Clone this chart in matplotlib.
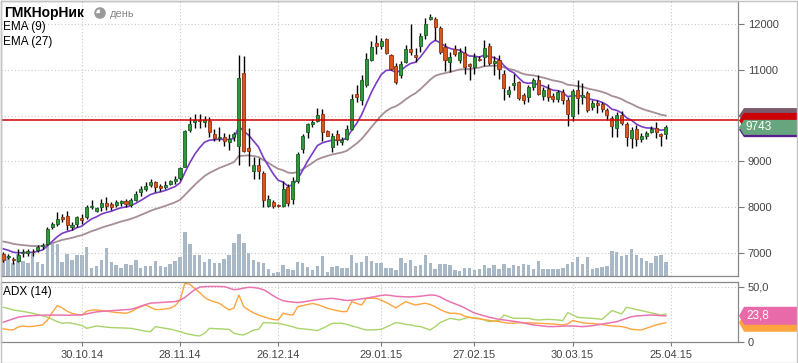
import numpy as np
import matplotlib
matplotlib.use('Agg')
import matplotlib.pyplot as plt
from matplotlib.patches import Polygon, Rectangle, Circle, Wedge
from matplotlib.transforms import blended_transform_factory

plt.rcParams['font.family'] = ['Liberation Sans', 'DejaVu Sans']

# daily candles, GMK Norilsk Nickel, Oct 2014 - Apr 2015
opens = [6980, 6920, 6870, 6830, 6990, 6995, 7030, 7060, 7140, 7190,
         7555, 7630, 7780, 7810, 7555, 7640, 7760, 7775, 8000, 7920,
         8010, 8080, 8060, 8050, 8080, 8140, 8050, 8160, 8320, 8395,
         8490, 8540, 8460, 8450, 8510, 8560, 8630, 8886, 9690, 9860,
         9910, 9865, 9880, 9600, 9500, 9530, 9420, 9530, 9325, 10920,
         9296, 8790, 8910, 8754, 8030, 8110, 8050, 8015, 8430, 8180,
         8580, 9270, 9640, 9820, 9890, 10025, 9660, 9310, 9590, 9430,
         9485, 9710, 10480, 10333, 10662, 11210, 11596, 11524, 11670, 11320,
         11078, 10881, 11170, 11445, 11320, 11524, 11759, 12110, 12109, 11905,
         11502, 11170, 11452, 11210, 11357, 11122, 11064, 11232, 11283, 11518,
         11150, 11210, 10918, 10480, 10660, 10735, 10443, 10405, 10625, 10772,
         10420, 10590, 10420, 10370, 10515, 10348, 10000, 10552, 10400, 10493,
         10187, 10275, 10260, 10114, 9953, 9725, 10004, 9820, 9500, 9713,
         9485, 9544, 9640, 9727, 9600, 9590]
highs = [7010, 6980, 6920, 7080, 7080, 7080, 7080, 7175, 7210, 7555,
         7685, 7900, 7850, 7905, 7665, 7810, 7850, 8050, 8150, 8010,
         8180, 8230, 8110, 8150, 8165, 8180, 8210, 8350, 8470, 8540,
         8610, 8570, 8510, 8560, 8600, 8680, 8885, 9675, 9970, 10030,
         10040, 10000, 9970, 9710, 9760, 9625, 9600, 9640, 11320, 11300,
         9735, 9105, 9080, 8800, 8270, 8150, 8060, 8580, 8500, 8650,
         9200, 9600, 9835, 9930, 10170, 10150, 9690, 9630, 9680, 9530,
         9785, 10480, 10662, 10880, 11370, 11627, 11760, 11690, 11690, 11350,
         11150, 11200, 11540, 12000, 11480, 11800, 12125, 12230, 12150, 11950,
         11580, 11380, 11540, 11470, 11510, 11150, 11370, 11300, 11650, 11590,
         11300, 11320, 10990, 10640, 10918, 10760, 10500, 10660, 10830, 10880,
         10625, 10680, 10490, 10570, 10590, 10410, 10580, 10787, 10713, 10540,
         10340, 10340, 10300, 10170, 10000, 10070, 10100, 9860, 9750, 9800,
         9620, 9660, 9763, 9860, 9620, 9800]
lows = [6790, 6860, 6750, 6790, 6900, 6930, 6930, 7010, 7075, 7175,
        7520, 7590, 7665, 7505, 7505, 7570, 7640, 7730, 7960, 7885,
        7920, 7940, 7940, 8010, 8020, 8010, 8010, 8140, 8250, 8350,
        8430, 8330, 8350, 8400, 8490, 8500, 8590, 8870, 9640, 9735,
        9730, 9760, 9530, 9455, 9455, 9325, 9240, 9455, 8910, 9200,
        8908, 8615, 8620, 7995, 7995, 7990, 7995, 7995, 8030, 8060,
        8530, 9180, 9510, 9740, 9860, 9440, 9550, 9200, 9350, 9350,
        9460, 9675, 10296, 10222, 10632, 11190, 11335, 11460, 11335, 10990,
        10700, 10830, 11150, 11320, 11180, 11393, 11671, 12090, 11650, 11350,
        10980, 10950, 11295, 11150, 10900, 10772, 10900, 11190, 11090, 11116,
        10896, 10809, 10348, 10400, 10552, 10333, 10260, 10296, 10560, 10443,
        10345, 10320, 10300, 10290, 10260, 9770, 9890, 10040, 10245, 10070,
        10130, 10055, 10080, 9894, 9530, 9530, 9790, 9346, 9296, 9325,
        9430, 9480, 9616, 9515, 9325, 9480]
closes = [6840, 6940, 6840, 6960, 7010, 7040, 7010, 7130, 7175, 7530,
          7640, 7750, 7730, 7615, 7615, 7775, 7720, 8010, 8030, 7980,
          8080, 8030, 8010, 8120, 8125, 8070, 8155, 8285, 8390, 8470,
          8540, 8450, 8420, 8490, 8580, 8620, 8850, 9660, 9820, 9895,
          9880, 9895, 9640, 9510, 9540, 9440, 9480, 9590, 10822, 9237,
          9222, 8930, 8800, 8162, 8175, 8030, 8020, 8395, 8100, 8580,
          9150, 9560, 9810, 9860, 10020, 9640, 9565, 9565, 9460, 9470,
          9710, 10370, 10410, 10772, 11232, 11502, 11524, 11627, 11357, 11028,
          10735, 11137, 11452, 11393, 11276, 11743, 11993, 12160, 11940, 11393,
          11210, 11270, 11335, 11380, 11064, 11085, 11283, 11205, 11480, 11160,
          11185, 11028, 10603, 10570, 10710, 10384, 10333, 10625, 10772, 10480,
          10570, 10405, 10362, 10515, 10348, 10040, 10530, 10392, 10455, 10114,
          10275, 10230, 10150, 10004, 9763, 10010, 9835, 9530, 9675, 9485,
          9544, 9616, 9710, 9640, 9565, 9743]
volumes = [22.3, 20, 13.3, 22.3, 15, 13.3, 23.3, 14.3, 11.7, 31.7,
           32.3, 32.3, 14, 22.3, 15.7, 21, 21, 29, 8.3, 10,
           15.7, 27.7, 14, 11, 7.7, 11.7, 11, 15.7, 8.3, 10,
           10, 15, 10, 9, 11.7, 15, 19, 44, 31.7, 21,
           21, 14.3, 16.7, 13.3, 13.3, 17.3, 21, 33.3, 42.3, 33.3,
           23.3, 15.7, 14.3, 13.3, 6.7, 2.7, 4.3, 11, 7.3, 5.7,
           14, 13.3, 9, 6, 9.7, 20, 4, 9, 10, 8.3,
           7.7, 21, 13.3, 14, 20, 15, 13.3, 12.7, 8.3, 7.7,
           6, 17.7, 13.3, 16, 10, 10.7, 20.7, 12.7, 6.7, 11.7,
           11.7, 10.7, 5.7, 5, 7.7, 8.3, 6, 6.7, 10.7, 8.3,
           10.7, 7.3, 12.3, 8.3, 10.7, 10, 11.7, 10.7, 6.7, 15,
           6.7, 6.7, 6.7, 6.7, 7.7, 12.3, 14, 19, 11.7, 19,
           6.7, 7.7, 9, 10, 25, 24.3, 20, 21, 26.7, 21,
           17.7, 15, 12.7, 20, 21, 14]

adx = [18.0, 19.5, 21.0, 22.5, 23.2, 23.6, 24.0, 24.2, 24.4, 24.5,
       24.5, 24.5, 24.4, 24.3, 24.4, 24.5, 24.6, 25.5, 26.5, 27.4,
       27.8, 28.1, 28.4, 28.8, 29.1, 29.4, 29.7, 31.0, 32.5, 34.0,
       35.3, 35.6, 35.9, 36.1, 36.4, 36.7, 38.0, 40.5, 44.0, 47.5,
       49.8, 50.3, 50.5, 50.5, 50.4, 50.3, 49.0, 47.5, 48.0, 49.0,
       49.7, 49.5, 48.8, 47.5, 45.0, 42.0, 39.5, 37.5, 36.7, 36.2,
       35.8, 36.3, 37.0, 37.8, 38.6, 39.0, 39.5, 39.7, 39.0, 38.2,
       37.7, 38.0, 38.6, 39.3, 39.8, 40.6, 41.5, 42.3, 42.7, 42.2,
       41.5, 41.2, 41.0, 41.0, 41.2, 41.6, 42.2, 42.7, 42.5, 41.0,
       38.5, 36.5, 34.8, 33.0, 31.0, 28.5, 26.3, 25.0, 23.8, 22.5,
       21.5, 20.6, 20.0, 19.5, 18.8, 18.2, 17.3, 16.3, 15.5, 15.0,
       14.5, 14.0, 14.0, 14.2, 14.5, 14.6, 14.5, 14.2, 14.0, 14.3,
       14.8, 15.5, 16.3, 17.0, 17.8, 18.5, 20.0, 21.5, 23.0, 23.6,
       24.0, 24.3, 24.5, 24.3, 23.9, 23.8]
di_plus = [12.0, 11.2, 11.0, 13.5, 14.5, 14.0, 14.2, 14.8, 15.5, 20.0,
           27.0, 33.0, 31.0, 28.0, 26.0, 25.0, 24.5, 28.0, 29.0, 29.1,
           28.5, 27.8, 27.2, 26.8, 26.4, 26.1, 27.5, 30.0, 32.0, 33.5,
           31.5, 29.5, 29.5, 30.0, 30.6, 33.0, 38.0, 53.4, 52.5, 48.5,
           45.0, 40.5, 38.0, 36.5, 35.2, 32.0, 29.1, 31.0, 42.7, 32.0,
           29.0, 26.5, 24.5, 23.0, 21.5, 20.5, 20.0, 26.1, 25.0, 24.5,
           32.1, 33.0, 34.0, 35.0, 34.0, 32.5, 30.6, 29.5, 28.5, 27.6,
           27.6, 36.7, 35.0, 33.6, 39.7, 39.7, 39.7, 38.0, 36.0, 33.5,
           31.0, 34.0, 36.7, 35.0, 33.6, 34.5, 35.2, 34.0, 32.0, 29.5,
           27.5, 26.1, 26.1, 25.5, 23.5, 22.5, 21.5, 21.0, 20.3, 19.6,
           19.0, 18.5, 17.8, 17.0, 17.2, 17.5, 17.6, 17.4, 17.2, 17.0,
           16.8, 16.6, 16.4, 16.0, 15.5, 16.5, 19.5, 18.5, 17.5, 17.0,
           16.8, 16.4, 15.8, 15.2, 14.6, 14.3, 14.0, 13.0, 11.5, 11.2,
           10.9, 12.5, 14.0, 15.5, 16.5, 17.5]
di_minus = [31.5, 30.5, 29.1, 28.5, 27.8, 27.0, 26.1, 25.0, 23.8, 22.5,
            20.5, 18.5, 17.0, 17.5, 17.0, 16.0, 15.0, 12.4, 13.5, 14.6,
            14.0, 13.5, 13.1, 13.0, 12.8, 12.6, 12.4, 11.5, 10.5, 9.8,
            9.4, 14.0, 13.2, 12.4, 11.8, 10.5, 9.5, 7.9, 7.0, 6.0,
            5.5, 7.9, 12.4, 12.2, 12.0, 11.8, 11.5, 7.9, 6.8, 6.4,
            8.5, 10.9, 11.5, 17.6, 17.4, 17.2, 17.0, 16.0, 15.0, 13.8,
            12.4, 12.0, 11.5, 11.0, 10.3, 12.4, 14.5, 17.0, 17.0, 17.0,
            16.0, 14.6, 13.5, 12.0, 10.9, 11.0, 11.2, 11.5, 13.5, 15.5,
            17.6, 17.0, 16.0, 15.5, 14.5, 14.0, 12.5, 10.9, 14.0, 17.6,
            19.5, 21.5, 20.8, 20.0, 21.5, 22.4, 22.0, 21.5, 20.0, 18.5,
            19.0, 19.5, 24.5, 23.0, 21.5, 21.5, 21.5, 21.5, 20.5, 20.0,
            20.3, 20.6, 20.3, 20.0, 19.5, 26.7, 24.5, 22.4, 22.0, 21.8,
            21.5, 21.0, 20.6, 24.5, 28.5, 27.0, 25.5, 31.5, 30.5, 29.5,
            28.5, 27.5, 26.5, 25.5, 24.5, 25.5]

tick_idx = [16, 36, 56, 77, 96, 116, 136]
tick_labels = ['30.10.14', '28.11.14', '26.12.14', '29.01.15', '27.02.15', '30.03.15', '25.04.15']
level = 9894  # horizontal red level


def ema(vals, n, seed):
    k = 2.0 / (n + 1)
    e = seed
    out = []
    for v in vals:
        e = e + k * (v - e)
        out.append(e)
    return np.array(out)


ema9 = ema(closes, 9, 7150)
ema27 = ema(closes, 27, 7280)

o = np.array(opens); h = np.array(highs); l = np.array(lows); c = np.array(closes)
x = np.arange(len(c))
up = c >= o

W, H = 798, 363
fig = plt.figure(figsize=(W / 100, H / 100), dpi=100)
fig.patch.set_facecolor('white')
fig.patches.append(Rectangle((0.5 / W, 0.5 / H), 1 - 1.5 / W, 1 - 1.5 / H, transform=fig.transFigure,
                             fill=False, edgecolor='#c4c4c4', lw=1))

rect_main = [1 / W, 1 - 276 / H, 737 / W, 275 / H]
rect_adx = [1 / W, 1 - 342 / H, 737 / W, 60 / H]

xlim = (-0.47, 149.7)
grid_kw = dict(color='#c8c8c8', lw=0.8, linestyle=(0, (1, 2)))

# volume underneath
axv = fig.add_axes(rect_main, zorder=0)
axv.bar(x, volumes, width=0.7, color='#a9b8c6', linewidth=0)
axv.set_xlim(*xlim)
axv.set_ylim(0, 275)
axv.axis('off')

ax = fig.add_axes(rect_main, zorder=1)
ax.patch.set_visible(False)
ax.set_xlim(*xlim)
ax.set_ylim(6495, 12504)

for yv in [7000, 8000, 9000, 10000, 11000, 12000]:
    ax.axhline(yv, zorder=0, **grid_kw)
for t in tick_idx:
    ax.axvline(t, zorder=0, **grid_kw)

ax.plot(x, ema27, color='#a68e99', lw=1.3, zorder=2)
ax.plot(x, ema9, color='#7a3cc6', lw=1.2, zorder=2)

ax.vlines(x, l, h, color='black', lw=1, zorder=3)
body = np.maximum(np.abs(c - o), 18)
bottom = np.minimum(o, c)
ax.bar(x[up], body[up], bottom=bottom[up], width=0.62, color='#2c9a3c',
       edgecolor='#1c5e22', linewidth=0.6, zorder=4)
ax.bar(x[~up], body[~up], bottom=bottom[~up], width=0.62, color='#d9561e',
       edgecolor='#8e3210', linewidth=0.6, zorder=4)

ax.axhline(level, color='#d00000', lw=1.1, zorder=5)

ax.set_xticks(tick_idx)
ax.tick_params(axis='x', length=0, labelbottom=False)
ax.yaxis.tick_right()
ax.set_yticks([7000, 8000, 9000, 10000, 11000, 12000])
ax.set_yticklabels(['7000', '8000', '9000', '', '11000', '12000'])
ax.tick_params(axis='y', direction='out', length=4, width=0.8, color='#777',
               labelcolor='#444', labelsize=8, pad=3)
for s in ax.spines.values():
    s.set_color('#888')
    s.set_linewidth(0.9)

# price tags on the right
bt = blended_transform_factory(ax.transAxes, ax.transData)
px = 1 / 737.0


def tag(a, trans, val, half, color, text=None, z=10):
    pts = [(1 + 1 * px, val), (1 + 6 * px, val + half), (1 + 62 * px, val + half),
           (1 + 62 * px, val - half), (1 + 6 * px, val - half)]
    a.add_patch(Polygon(pts, closed=True, transform=trans, facecolor=color,
                        edgecolor='none', clip_on=False, zorder=z))
    if text:
        a.text(1 + 8 * px, val, text, transform=trans, color='white', fontsize=8.5,
               va='center', ha='left', clip_on=False, zorder=z + 1)


half_p = 7.5 * 21.93
tag(ax, bt, ema27[-1], half_p, '#7b5a6c', z=10)
tag(ax, bt, level, half_p, '#cc0000', z=11)
tag(ax, bt, ema9[-1], half_p, '#5a1e8e', z=12)
tag(ax, bt, closes[-1], half_p, '#67a57e', text=str(closes[-1]), z=13)

# ADX panel
ax2 = fig.add_axes(rect_adx)
ax2.set_xlim(*xlim)
ax2.set_ylim(0, 54.5)
ax2.axhline(50, **grid_kw)
for t in tick_idx:
    ax2.axvline(t, **grid_kw)
ax2.plot(x, di_minus, color='#a9d46a', lw=1.0)
ax2.plot(x, di_plus, color='#ffa43e', lw=1.0)
ax2.plot(x, adx, color='#ea74b0', lw=1.1)
ax2.set_xticks(tick_idx)
ax2.set_xticklabels(tick_labels)
ax2.tick_params(axis='x', direction='out', length=3, color='#777', labelcolor='#444',
                labelsize=8, pad=3)
ax2.yaxis.tick_right()
ax2.set_yticks([0, 50])
ax2.set_yticklabels(['0', '50,0'])
ax2.tick_params(axis='y', direction='out', length=4, width=0.8, color='#777',
                labelcolor='#444', labelsize=8, pad=3)
for s in ax2.spines.values():
    s.set_color('#888')
    s.set_linewidth(0.9)

bt2 = blended_transform_factory(ax2.transAxes, ax2.transData)
half_a = 9 * 54.5 / 60
tag(ax2, bt2, di_plus[-1], half_a, '#ffa43e', z=10)
tag(ax2, bt2, adx[-1], half_a, '#e96aa8', text=('%.1f' % adx[-1]).replace('.', ','), z=12)

# captions
fig.text(4 / W, 1 - 13 / H, 'ГМКНорНик', fontsize=10, fontweight='bold', va='center', ha='left')
# little clock icon next to the period
ic = (100 / 100, (H - 13) / 100)
fig.patches.append(Circle(ic, 0.058, transform=fig.dpi_scale_trans, facecolor='#9a9a9a', edgecolor='none'))
fig.patches.append(Wedge(ic, 0.038, 95, 185, transform=fig.dpi_scale_trans, facecolor='white', edgecolor='none'))
fig.text(110 / W, 1 - 14 / H, 'день', fontsize=8, color='#888', va='center', ha='left')
fig.text(3 / W, 1 - 27 / H, 'EMA (9)', fontsize=8.5, va='center', ha='left')
fig.text(3 / W, 1 - 42 / H, 'EMA (27)', fontsize=8.5, va='center', ha='left')
fig.text(3 / W, 1 - 292 / H, 'ADX (14)', fontsize=8.5, va='center', ha='left')

fig.savefig('out.png', dpi=100, facecolor=fig.get_facecolor())
